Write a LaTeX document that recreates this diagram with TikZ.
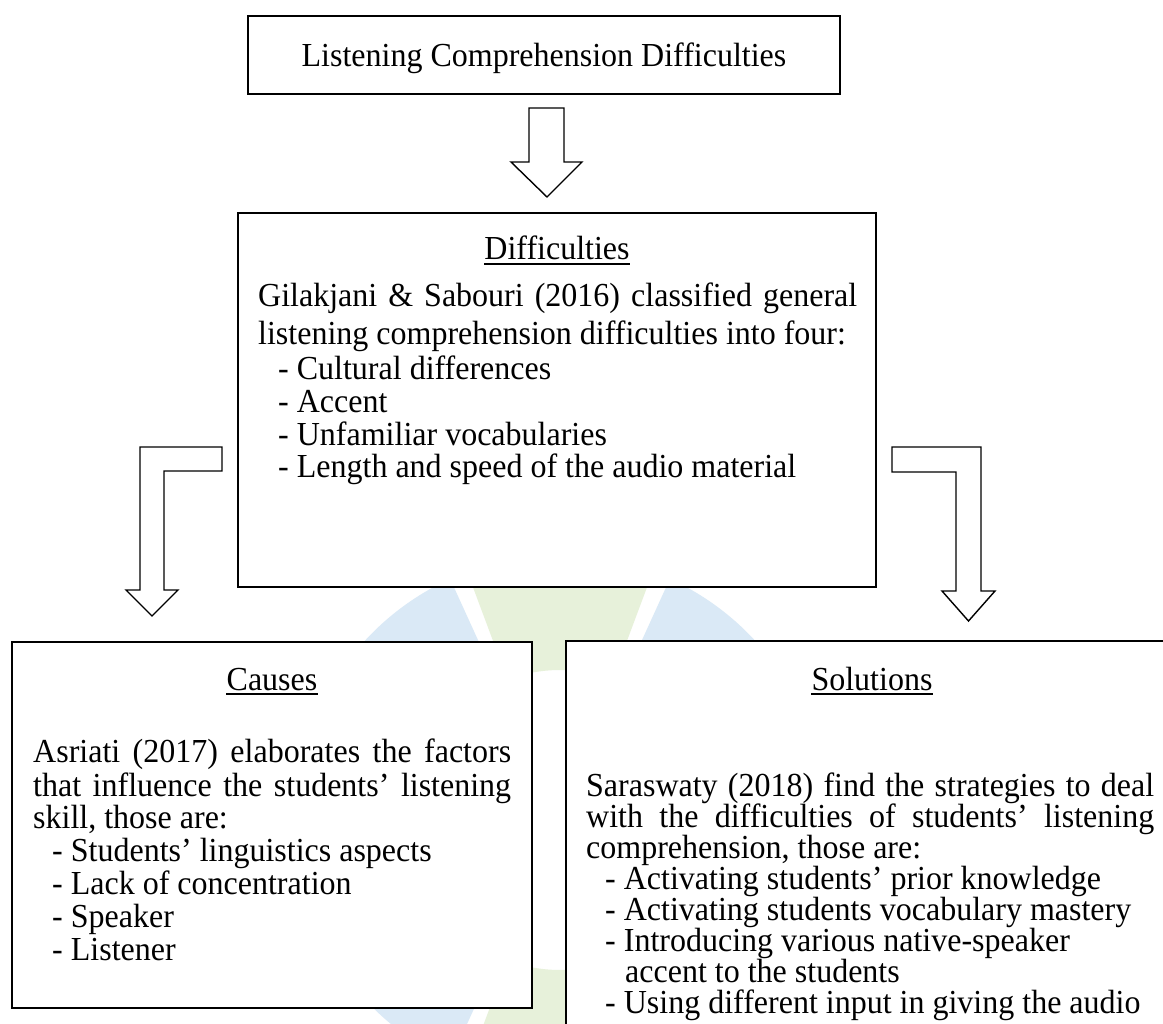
\documentclass[tikz,border=0pt]{standalone}
\usepackage{graphicx}
\usepackage{fontspec}
\setmainfont{Liberation Serif}
\usetikzlibrary{calc}
\newcommand\bodyfont{\fontsize{32}{36}\selectfont}
\newcommand\tall[1]{\scalebox{1}[1.05]{#1}}
\definecolor{wmb}{RGB}{218,233,246}
\definecolor{wmg}{RGB}{231,241,218}
\tikzset{
  box/.style={draw, line width=1.4pt, fill=white, rectangle, inner sep=0pt},
  txt/.style={anchor=base west, inner sep=0pt, font=\bodyfont},
  hd/.style={anchor=base, inner sep=0pt, font=\bodyfont},
  blockarrow/.style={draw, line width=1.4pt, fill=white, line join=miter},
  uline/.style={line width=1.6pt}
}
\begin{document}
\begin{tikzpicture}[x=1pt,y=-1pt]
\path[use as bounding box] (0,0) rectangle (1163,1024);
\clip (0,0) rectangle (1163,1024);
\fill[white] (0,0) rectangle (1163,1024);

% faint watermark behind the boxes
\begin{scope}[shift={(560,820)}]
  \foreach \a/\c in {-22.5/wmg,22.5/wmb,67.5/wmg,112.5/wmb,157.5/wmg,202.5/wmb,247.5/wmg,292.5/wmb}{
    \fill[\c] (\a+2:150) -- (\a+2:265) arc[start angle=\a+2, end angle=\a+43, radius=265]
      -- (\a+43:150) arc[start angle=\a+43, end angle=\a+2, radius=150] -- cycle;
  }
\end{scope}

% boxes
\node[box, minimum width=592pt, minimum height=78pt] (top) at (544,55) {};
\node[box, minimum width=638pt, minimum height=374pt] (mid) at (557,400) {};
\node[box, minimum width=520pt, minimum height=366pt] (cau) at (272,825) {};
\node[box, minimum width=612pt, minimum height=470pt] (sol) at (872,876) {};

% block arrows
\draw[blockarrow] (529,108) -- (564,108) -- (564,162) -- (582,162) -- (547,197)
  -- (511,162) -- (529,162) -- cycle;
\draw[blockarrow] (222,447) -- (140,447) -- (140,590) -- (126,590) -- (152,616)
  -- (178,590) -- (164,590) -- (164,471) -- (222,471) -- cycle;
\draw[blockarrow] (892,447) -- (981,447) -- (981,591) -- (995,591) -- (968.5,621)
  -- (942,591) -- (956,591) -- (956,472) -- (892,472) -- cycle;

% top box text
\node[hd] (ttl) at (544,67) {\tall{Listening Comprehension Difficulties}};

% middle box
\node[hd] (hdif) at (557,260) {\tall{Difficulties}};
\draw[uline] ($(hdif.base west)+(0,4)$) -- ($(hdif.base east)+(0,4)$);
\node[txt] (g1) at (258,307) {\tall{\makebox[599pt][s]{Gilakjani \& Sabouri (2016) classified general}}};
\node[txt] (g2) at (258,345) {\tall{listening comprehension difficulties into four:}};
\node[txt] (g3) at (278,380) {\tall{- Cultural differences}};
\node[txt] (g4) at (278,413) {\tall{- Accent}};
\node[txt] (g5) at (278,446) {\tall{- Unfamiliar vocabularies}};
\node[txt] (g6) at (278,478) {\tall{- Length and speed of the audio material}};

% causes box
\node[hd] (hcau) at (272,690) {\tall{Causes}};
\draw[uline] ($(hcau.base west)+(0,4)$) -- ($(hcau.base east)+(0,4)$);
\node[txt] (c1) at (33,762) {\tall{\makebox[478pt][s]{Asriati (2017) elaborates the factors}}};
\node[txt] (c2) at (33,796) {\tall{\makebox[478pt][s]{that influence the students’ listening}}};
\node[txt] (c3) at (33,828) {\tall{skill, those are:}};
\node[txt] (c4) at (52,861) {\tall{- Students’ linguistics aspects}};
\node[txt] (c5) at (52,894) {\tall{- Lack of concentration}};
\node[txt] (c6) at (52,927) {\tall{- Speaker}};
\node[txt] (c7) at (52,960) {\tall{- Listener}};

% solutions box
\node[hd] (hsol) at (872,690) {\tall{Solutions}};
\draw[uline] ($(hsol.base west)+(0,4)$) -- ($(hsol.base east)+(0,4)$);
\node[txt] (s1) at (586,796) {\tall{\makebox[568pt][s]{Saraswaty (2018) find the strategies to deal}}};
\node[txt] (s2) at (586,827) {\tall{\makebox[568pt][s]{with the difficulties of students’ listening}}};
\node[txt] (s3) at (586,858) {\tall{comprehension, those are:}};
\node[txt] (s4) at (605,889) {\tall{- Activating students’ prior knowledge}};
\node[txt] (s5) at (605,920) {\tall{- Activating students vocabulary mastery}};
\node[txt] (s6) at (605,951) {\tall{- Introducing various native-speaker}};
\node[txt] (s7) at (625,982) {\tall{accent to the students}};
\node[txt] (s8) at (605,1013) {\tall{- Using different input in giving the audio}};
\end{tikzpicture}
\end{document}
